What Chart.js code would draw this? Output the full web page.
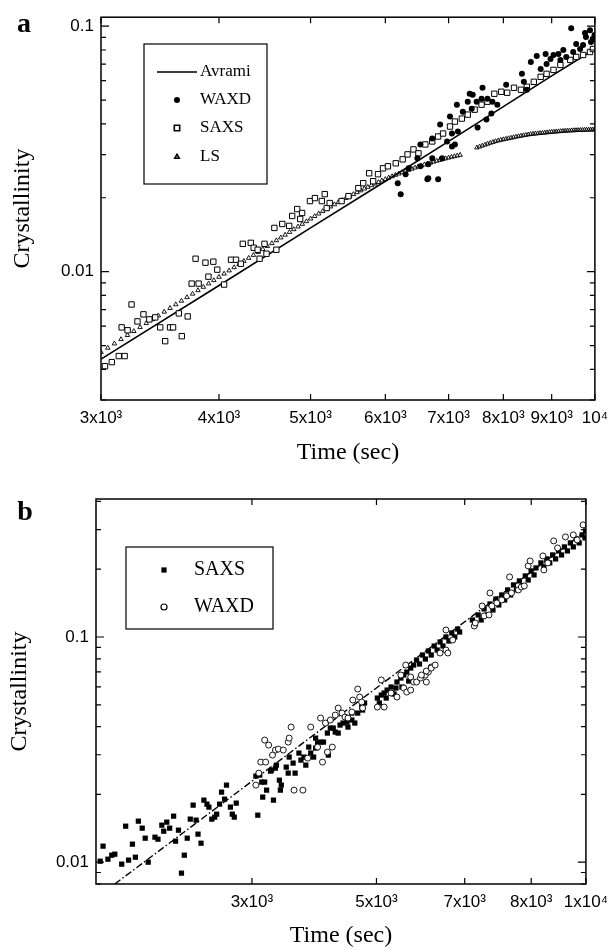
<!DOCTYPE html>
<html>
<head>
<meta charset="utf-8">
<script src="https://cdn.jsdelivr.net/npm/chart.js@4.4.1/dist/chart.umd.min.js"></script>
<style>
  html, body { margin: 0; padding: 0; background: #fff; }
  #wrap { position: relative; width: 616px; height: 950px; }
  canvas { position: absolute; left: 0; }
  #ca { top: 0; }
  #cb { top: 470px; }
</style>
</head>
<body>
<div id="wrap">
  <canvas id="ca" width="616" height="470"></canvas>
  <canvas id="cb" width="616" height="480"></canvas>
</div>
<script>
// Two log-log crystallinity panels (a: WAXD/SAXS/LS + Avrami fit, b: SAXS/WAXD).
// Values below.

// ── panel a ─────────────────────────────────────────────────────────────
const A_XTICKS = [3000, 4000, 5000, 6000, 7000, 8000, 9000, 10000];
const A_XLABELS = ['3x10³', '4x10³', '5x10³', '6x10³', '7x10³', '8x10³', '9x10³', '10⁴'];
const A_YTICKS = [0.01, 0.1];
const A_YLABELS = ['0.01', '0.1'];

const AVRAMI_T = [3000, 4000, 5000, 6000, 7000, 8000, 9000, 10000];
const AVRAMI_Y = [0.00440, 0.00878, 0.01507, 0.02336, 0.03392, 0.04700, 0.06277, 0.08072];

const LS1_T = [
  3000, 3050, 3100, 3150, 3200, 3250, 3300, 3350, 3400, 3450,
  3500, 3550, 3600, 3650, 3700, 3750, 3800, 3850, 3900, 3950,
  4000, 4050, 4100, 4150, 4200, 4250, 4300, 4350, 4400, 4450,
  4500, 4550, 4600, 4650, 4700, 4750, 4800, 4850, 4900, 4950,
  5000, 5050, 5100, 5150, 5200, 5250, 5300, 5350, 5400, 5450,
  5500, 5550, 5600, 5650, 5700, 5750, 5800, 5850, 5900, 5950,
  6000, 6050, 6100, 6150, 6200, 6250, 6300, 6350, 6400, 6450,
  6500, 6550, 6600, 6650, 6700, 6750, 6800, 6850, 6900, 6950,
  7000, 7050, 7100, 7150, 7200,
];
const LS1_Y = [
  0.00470, 0.00489, 0.00509, 0.00530, 0.00551, 0.00572, 0.00594, 0.00616, 0.00639, 0.00662,
  0.00686, 0.00710, 0.00735, 0.00760, 0.00786, 0.00812, 0.00839, 0.00866, 0.00894, 0.00922,
  0.00951, 0.00980, 0.01010, 0.01041, 0.01072, 0.01104, 0.01136, 0.01168, 0.01201, 0.01235,
  0.01269, 0.01304, 0.01340, 0.01376, 0.01412, 0.01449, 0.01487, 0.01525, 0.01563, 0.01603,
  0.01643, 0.01682, 0.01722, 0.01762, 0.01801, 0.01840, 0.01878, 0.01917, 0.01955, 0.01993,
  0.02030, 0.02067, 0.02104, 0.02140, 0.02176, 0.02211, 0.02246, 0.02281, 0.02314, 0.02348,
  0.02380, 0.02413, 0.02444, 0.02476, 0.02506, 0.02536, 0.02565, 0.02594, 0.02622, 0.02650,
  0.02677, 0.02703, 0.02729, 0.02754, 0.02778, 0.02802, 0.02825, 0.02847, 0.02869, 0.02890,
  0.02911, 0.02931, 0.02950, 0.02968, 0.02986,
];
const LS2_T = [
  7500, 7550, 7600, 7650, 7700, 7750, 7800, 7850, 7900, 7950,
  8000, 8050, 8100, 8150, 8200, 8250, 8300, 8350, 8400, 8450,
  8500, 8550, 8600, 8650, 8700, 8750, 8800, 8850, 8900, 8950,
  9000, 9050, 9100, 9150, 9200, 9250, 9300, 9350, 9400, 9450,
  9500, 9550, 9600, 9650, 9700, 9750, 9800, 9850, 9900, 9950,
  10000,
];
const LS2_Y = [
  0.03200, 0.03229, 0.03258, 0.03287, 0.03316, 0.03345, 0.03372, 0.03396, 0.03418, 0.03438,
  0.03456, 0.03473, 0.03490, 0.03507, 0.03524, 0.03541, 0.03557, 0.03573, 0.03589, 0.03604,
  0.03618, 0.03629, 0.03639, 0.03648, 0.03657, 0.03665, 0.03673, 0.03681, 0.03689, 0.03697,
  0.03705, 0.03712, 0.03719, 0.03726, 0.03732, 0.03738, 0.03744, 0.03749, 0.03754, 0.03758,
  0.03762, 0.03766, 0.03769, 0.03772, 0.03775, 0.03778, 0.03781, 0.03784, 0.03786, 0.03788,
  0.03790,
];

const SAXS_A_T = [
  3029, 3080, 3133, 3178, 3155, 3201, 3232, 3279, 3327, 3375,
  3424, 3466, 3508, 3550, 3576, 3627, 3653, 3706, 3778, 3742,
  3806, 3870, 3945, 3898, 3983, 4050, 4119, 4169, 4219, 4239,
  4322, 4353, 4395, 4469, 4491, 4578, 4600, 4667, 4746, 4416,
  4781, 4840, 4898, 4875, 4993, 5054, 5139, 5201, 5239, 5176,
  5393, 5484, 5618, 5685, 5768, 5824, 5894, 5966, 6038, 6154,
  6259, 6334, 6426, 6504, 6614, 6727, 6824, 6907, 7024, 7109,
  7230, 7335, 7459, 7586, 7696, 7826, 7959, 8075, 8211, 8351,
  8472, 8616, 8762, 8889, 9040, 9193, 9417, 9554, 9716, 9881,
  9953,
];
const SAXS_A_Y = [
  0.00412, 0.00428, 0.00453, 0.00453, 0.00593, 0.00577, 0.00735, 0.00627, 0.00670, 0.00639,
  0.00651, 0.00593, 0.00521, 0.00593, 0.00593, 0.00676, 0.00546, 0.00657, 0.01129, 0.00894,
  0.00894, 0.01088, 0.01098, 0.00954, 0.01019, 0.00886, 0.01118, 0.01118, 0.01077, 0.01298,
  0.01310, 0.01251, 0.01228, 0.01298, 0.01183, 0.01507, 0.01228, 0.01564, 0.01536, 0.01129,
  0.01686, 0.01799, 0.01734, 0.01639, 0.01939, 0.01994, 0.01939, 0.01816, 0.01903, 0.02069,
  0.01939, 0.02031, 0.02189, 0.02293, 0.02517, 0.02336, 0.02494, 0.02637, 0.02687, 0.02763,
  0.02868, 0.03004, 0.03148, 0.03033, 0.03298, 0.03392, 0.03553, 0.03654, 0.03901, 0.04087,
  0.04203, 0.04362, 0.04571, 0.04789, 0.04925, 0.05306, 0.05406, 0.05357, 0.05613, 0.05509,
  0.05665, 0.05934, 0.06218, 0.06394, 0.06636, 0.06953, 0.07286, 0.07492, 0.07634, 0.07849,
  0.08072,
];

const WAXD_A_T = [
  6229, 6184, 6304, 6350, 6535, 6488, 6662, 6824, 6662, 6727,
  6890, 7058, 6974, 7109, 6535, 6727, 6857, 7058, 7160, 7024,
  7143, 7247, 7335, 7370, 7424, 7495, 7406, 7513, 7604, 7586,
  7677, 7696, 7789, 7883, 7770, 8055, 8371, 8410, 8472, 8554,
  8678, 8762, 8868, 8889, 8975, 9040, 9149, 9193, 9259, 9326,
  9439, 9485, 9554, 9646, 9762, 9785, 9881, 9905, 9953, 9990,
  9716, 6647,
];
const WAXD_A_Y = [
  0.02069, 0.02293, 0.02494, 0.02637, 0.02687, 0.02895, 0.02402, 0.02380, 0.02737, 0.02895,
  0.02895, 0.03237, 0.03392, 0.03298, 0.03298, 0.03487, 0.03974, 0.03654, 0.03724, 0.04282,
  0.04789, 0.04486, 0.04925, 0.05306, 0.05257, 0.04925, 0.04613, 0.03865, 0.05613, 0.05065,
  0.04164, 0.05065, 0.04925, 0.04789, 0.04404, 0.05771, 0.06394, 0.05934, 0.05509, 0.07151,
  0.07562, 0.06699, 0.07704, 0.07019, 0.07354, 0.07634, 0.07704, 0.07286, 0.07997, 0.07492,
  0.09817, 0.07849, 0.08456, 0.08072, 0.09371, 0.09028, 0.09636, 0.08617, 0.08862, 0.09199,
  0.08378, 0.02380,
];

// ── panel b ─────────────────────────────────────────────────────────────
// tick values sit where the printed labels sit on the original axis
const B_XTICKS = [3000, 4700, 6460, 8210, 10000];
const B_XLABELS = ['3x10³', '5x10³', '7x10³', '8x10³', '1x10⁴'];
const B_YTICKS = [0.01, 0.1];
const B_YLABELS = ['0.01', '0.1'];

const FIT_B_T = [1830, 10000];
const FIT_B_Y = [0.0080, 0.2958];

const SAXS_B_T = [
  1736, 1754, 1785, 1810, 1830, 1876, 1903, 1923, 1950, 1971,
  1992, 2020, 2042, 2064, 2115, 2138, 2168, 2183, 2207, 2230,
  2262, 2278, 2302, 2327, 2351, 2376, 2402, 2427, 2453, 2470,
  2497, 2523, 2551, 2569, 2596, 2623, 2642, 2670, 2689, 2718,
  2737, 2776, 2795, 2815, 2835, 3043, 3064, 3086, 3119, 3141,
  3163, 3208, 3242, 3265, 3312, 3324, 3108, 3220, 3277, 3335,
  3395, 3419, 3480, 3505, 3431, 3554, 3580, 3618, 3643, 3682,
  3708, 3747, 3774, 3801, 3842, 3883, 3774, 3951, 3938, 3980,
  4022, 4051, 4094, 4122, 4166, 4226, 4241, 4301, 4347, 4301,
  4393, 4456, 4471, 4503, 4715, 4782, 4832, 4884, 4954, 4971,
  5042, 5060, 5132, 5186, 5242, 5317, 5373, 4749, 4868, 5007,
  5151, 5279,
  5431, 5488, 5547, 5606, 5666, 5726, 5787, 5849, 5911, 5973,
  6038, 6102, 6167, 6233, 6299, 6343,
  6640, 6711, 6782, 6855, 6928, 7002, 7076, 7152, 7228, 7305,
  7382, 7461, 7541, 7621, 7702, 7784, 7867, 7951, 8036, 8121,
  8207, 8295, 8354,
  8502, 8593, 8684, 8777, 8870, 8965, 9060, 9159, 9256, 9355,
  9455, 9555, 9657, 9760, 9864, 9969, 9990,
];
const SAXS_B_Y = [
  0.01010, 0.01178, 0.01031, 0.01074, 0.01085, 0.00980, 0.01445, 0.01021, 0.01202, 0.01052,
  0.01521, 0.01416, 0.01278, 0.01000, 0.01291, 0.01265, 0.01460, 0.01373, 0.01506, 0.01416,
  0.01601, 0.01240, 0.01387, 0.00894, 0.01074, 0.01278, 0.01553, 0.01792, 0.01537, 0.01332,
  0.01214, 0.01886, 0.01810, 0.01756, 0.01553, 0.01585, 0.01634, 0.01810, 0.02047, 0.01905,
  0.02199, 0.01756, 0.01634, 0.01585, 0.01829, 0.02411, 0.01617, 0.02436, 0.01945, 0.02268,
  0.02089, 0.02537, 0.01886, 0.02616, 0.02313, 0.02089, 0.02268, 0.02563, 0.02698, 0.02199,
  0.02643, 0.02486, 0.02754, 0.02486, 0.02929, 0.03051, 0.02840, 0.02929, 0.02698, 0.03244,
  0.03051, 0.02929, 0.03211, 0.03379, 0.03414, 0.03414, 0.03556, 0.02989, 0.03744, 0.03941,
  0.03941, 0.03783, 0.03744, 0.04064, 0.04148, 0.04190, 0.03981, 0.04277, 0.04148, 0.04594,
  0.04594, 0.04885, 0.04738, 0.05089, 0.05356, 0.05523, 0.05637, 0.05812, 0.05995, 0.05637,
  0.05934, 0.06310, 0.06573, 0.06778, 0.06988, 0.07280, 0.07506, 0.05089, 0.05356, 0.05580,
  0.05995, 0.06375,
  0.07902, 0.07586, 0.08318, 0.07983, 0.08665, 0.08318, 0.09120, 0.08753, 0.09502, 0.09120,
  0.1000, 0.09598, 0.1042, 0.1000, 0.1085, 0.1052,
  0.1190, 0.1142, 0.1253, 0.1190, 0.1332, 0.1253, 0.1402, 0.1318, 0.1475, 0.1388,
  0.1537, 0.1460, 0.1618, 0.1537, 0.1703, 0.1618, 0.1774, 0.1686, 0.1867, 0.1792,
  0.1965, 0.1886, 0.2026,
  0.2133, 0.2047, 0.2222, 0.2133, 0.2314, 0.2222, 0.2411, 0.2314, 0.2512, 0.2411,
  0.2617, 0.2512, 0.2727, 0.2617, 0.2840, 0.2754, 0.2959,
];

const WAXD_B_T = [
  3141, 3186, 3097, 3152, 3231, 3265, 3300, 3043, 3075, 3359,
  3419, 3431, 3455, 3492, 3605, 3668, 3708, 3801, 3869, 3938,
  4008, 3842, 3910, 3980, 4051, 4094, 4151, 4196, 4241, 4301,
  4316, 4393, 4424, 4456, 4471, 4715, 4832, 4782, 4954, 5060,
  5186, 5242, 5317, 5132, 5223, 5317, 5373, 5431, 5508, 5606,
  5666, 5726, 5625, 5527, 5625, 5726, 5807, 5911, 6038, 6080,
  6187, 6038, 6686, 6711, 6928, 7052, 6879, 7076, 7126, 7253,
  7382, 7515, 7647, 7840, 7923, 8008, 7595, 8121, 8178, 8563,
  8593, 8717, 8903, 9029, 9289, 9555, 9690, 9898,
];
const WAXD_B_Y = [
  0.03485, 0.03311, 0.02783, 0.02783, 0.02989, 0.03147, 0.03179, 0.02199, 0.02486, 0.03147,
  0.03414, 0.03556, 0.03981, 0.02089, 0.02089, 0.02898, 0.03981, 0.03244, 0.02783, 0.03083,
  0.03244, 0.04365, 0.04148, 0.04277, 0.04500, 0.04835, 0.04594, 0.04410, 0.04365, 0.04642,
  0.05248, 0.05872, 0.05412, 0.05141, 0.04835, 0.04885, 0.04885, 0.06442, 0.05637, 0.05412,
  0.05934, 0.05694, 0.05812, 0.06778, 0.07506, 0.06640, 0.06310, 0.06310, 0.06573, 0.06778,
  0.06988, 0.07357, 0.06310, 0.06778, 0.07061, 0.07280, 0.07506, 0.08489, 0.08753, 0.08489,
  0.09698, 0.1074, 0.1119, 0.1154, 0.1240, 0.1253, 0.1373, 0.1569, 0.1373, 0.1416,
  0.1460, 0.1521, 0.1569, 0.1618, 0.1668, 0.1686, 0.1848, 0.2068, 0.2176, 0.2291,
  0.1985, 0.2133, 0.2671, 0.2486, 0.2783, 0.2840, 0.2698, 0.3147,
];

// ── helpers ─────────────────────────────────────────────────────────────
const pts = (xs, ys) => xs.map((x, i) => ({ x, y: ys[i] }));
const SANS = '"Liberation Sans", Arial, sans-serif';
const SERIF = '"Liberation Serif", "Times New Roman", serif';

// 1..9 x 10^n positions inside the y range, for the inward minor ticks
function logSteps(min, max) {
  const out = [];
  for (let d = Math.floor(Math.log10(min)); d <= Math.ceil(Math.log10(max)); d++) {
    for (let k = 1; k <= 9; k++) {
      const v = k * Math.pow(10, d);
      if (v >= min * 0.999 && v <= max * 1.001) out.push({ v, major: k === 1 });
    }
  }
  return out;
}

// frame, inward ticks on all four sides, boxed legend and the panel letter
const decor = {
  id: 'decor',
  afterDraw(chart, _args, o) {
    const { ctx, chartArea: a, scales: { x, y } } = chart;
    ctx.save();
    ctx.strokeStyle = '#000';
    ctx.lineWidth = 1.5;
    ctx.strokeRect(a.left, a.top, a.right - a.left, a.bottom - a.top);

    ctx.lineWidth = 1.2;
    ctx.beginPath();
    x.ticks.forEach((t) => {
      const px = x.getPixelForValue(t.value);
      ctx.moveTo(px, a.bottom); ctx.lineTo(px, a.bottom - 6);
      ctx.moveTo(px, a.top); ctx.lineTo(px, a.top + 6);
    });
    logSteps(y.min, y.max).forEach((t) => {
      const py = y.getPixelForValue(t.v);
      const len = t.major ? 8 : 5;
      ctx.moveTo(a.left, py); ctx.lineTo(a.left + len, py);
      ctx.moveTo(a.right, py); ctx.lineTo(a.right - len, py);
    });
    ctx.stroke();

    // legend box
    const [l, t, r, b] = o.box;
    ctx.lineWidth = 1.2;
    ctx.strokeRect(l, t, r - l, b - t);
    ctx.font = o.legendFont;
    ctx.textAlign = 'left';
    ctx.textBaseline = 'middle';
    o.items.forEach((it) => {
      const ds = chart.data.datasets[it.ds];
      if (ds.showLine) {
        ctx.beginPath();
        ctx.lineWidth = ds.borderWidth;
        ctx.setLineDash(ds.borderDash || []);
        ctx.moveTo(o.lineFrom, it.y); ctx.lineTo(o.markX + (o.markX - o.lineFrom), it.y);
        ctx.stroke();
        ctx.setLineDash([]);
      } else {
        ctx.fillStyle = ds.backgroundColor;
        ctx.strokeStyle = ds.borderColor;
        Chart.helpers.drawPoint(ctx, {
          pointStyle: ds.pointStyle, radius: ds.pointRadius, rotation: 0,
          borderWidth: ds.borderWidth,
        }, o.markX, it.y);
      }
      ctx.fillStyle = '#000';
      ctx.strokeStyle = '#000';
      ctx.fillText(ds.label, o.textX, it.y);
    });

    ctx.font = 'bold 28px ' + SERIF;
    ctx.textAlign = 'center';
    ctx.textBaseline = 'alphabetic';
    ctx.fillText(o.letter, o.letterX, o.letterY);
    ctx.restore();
  },
};

function xAxis(min, max, ticks, labels, height, titlePad) {
  return {
    type: 'logarithmic', position: 'bottom', min, max, bounds: 'data',
    grid: { display: false, drawTicks: false }, border: { display: false },
    afterBuildTicks: (s) => { s.ticks = ticks.map((v) => ({ value: v })); },
    afterFit: (s) => { s.height = height; },
    ticks: {
      autoSkip: false, maxRotation: 0, minRotation: 0, padding: 8, color: '#000',
      font: { family: SANS, size: 17 }, callback: (v, i) => labels[i],
    },
    title: {
      display: true, text: 'Time (sec)', color: '#000',
      font: { family: SERIF, size: 24 }, padding: { top: 0, bottom: titlePad },
    },
  };
}

function yAxis(min, max, ticks, labels, width, titlePad) {
  return {
    type: 'logarithmic', position: 'left', min, max, bounds: 'data',
    grid: { display: false, drawTicks: false }, border: { display: false },
    afterBuildTicks: (s) => { s.ticks = ticks.map((v) => ({ value: v })); },
    afterFit: (s) => { s.width = width; },
    ticks: {
      autoSkip: false, padding: 7, color: '#000',
      font: { family: SANS, size: 17 }, callback: (v, i) => labels[i],
    },
    title: {
      display: true, text: 'Crystallinity', color: '#000',
      font: { family: SERIF, size: 24 }, padding: { top: titlePad, bottom: 0 },
    },
  };
}

const base = {
  responsive: false,
  animation: false,
  events: [],
  plugins: { legend: { display: false }, tooltip: { enabled: false } },
};

// ── panel a ─────────────────────────────────────────────────────────────
new Chart(document.getElementById('ca'), {
  type: 'scatter',
  data: {
    datasets: [
      {
        label: 'Avrami', data: pts(AVRAMI_T, AVRAMI_Y), showLine: true,
        borderColor: '#000', backgroundColor: '#000', borderWidth: 1.6,
        pointRadius: 0, order: 2,
      },
      {
        label: 'WAXD', data: pts(WAXD_A_T, WAXD_A_Y), pointStyle: 'circle',
        pointRadius: 3, borderWidth: 0, backgroundColor: '#000', borderColor: '#000', order: 0,
      },
      {
        label: 'SAXS', data: pts(SAXS_A_T, SAXS_A_Y), pointStyle: 'rect',
        pointRadius: 3.8, borderWidth: 1, backgroundColor: '#fff', borderColor: '#000', order: 1,
      },
      {
        label: 'LS', data: pts(LS1_T, LS1_Y).concat(pts(LS2_T, LS2_Y)), pointStyle: 'triangle',
        pointRadius: 2.6, borderWidth: 0.9, backgroundColor: 'rgba(255,255,255,0)', borderColor: '#000', order: 3,
      },
    ],
  },
  options: {
    ...base,
    layout: { padding: { left: 0, top: 15, right: 14, bottom: 0 }, autoPadding: false },
    scales: {
      x: xAxis(3000, 10000, A_XTICKS, A_XLABELS, 70, 3),
      y: yAxis(0.003, 0.1088, A_YTICKS, A_YLABELS, 101, 8),
    },
    plugins: {
      ...base.plugins,
      decor: {
        letter: 'a', letterX: 24, letterY: 32,
        box: [144, 44, 267, 184], legendFont: '17px ' + SERIF,
        lineFrom: 157, markX: 177, textX: 200,
        items: [{ ds: 0, y: 72 }, { ds: 1, y: 100 }, { ds: 2, y: 128 }, { ds: 3, y: 157 }],
      },
    },
  },
  plugins: [decor],
});

// ── panel b ─────────────────────────────────────────────────────────────
new Chart(document.getElementById('cb'), {
  type: 'scatter',
  data: {
    datasets: [
      {
        label: 'SAXS', data: pts(SAXS_B_T, SAXS_B_Y), pointStyle: 'rect',
        pointRadius: 3.7, borderWidth: 0, backgroundColor: '#000', borderColor: '#000', order: 1,
      },
      {
        label: 'WAXD', data: pts(WAXD_B_T, WAXD_B_Y), pointStyle: 'circle',
        pointRadius: 3, borderWidth: 0.9, backgroundColor: '#fff', borderColor: '#000', order: 0,
      },
      {
        label: 'fit', data: pts(FIT_B_T, FIT_B_Y), showLine: true,
        borderColor: '#000', backgroundColor: '#000', borderWidth: 1.4,
        borderDash: [7, 2.5, 1.5, 2.5], pointRadius: 0, order: 2,
      },
    ],
  },
  options: {
    ...base,
    layout: { padding: { left: 0, top: 29, right: 20, bottom: 0 }, autoPadding: false },
    scales: {
      x: xAxis(1710, 10000, B_XTICKS, B_XLABELS, 66, 0),
      y: yAxis(0.008, 0.41, B_YTICKS, B_YLABELS, 96, 5),
    },
    plugins: {
      ...base.plugins,
      decor: {
        letter: 'b', letterX: 25, letterY: 50,
        box: [126, 77, 273, 159], legendFont: '20px ' + SERIF,
        lineFrom: 150, markX: 164, textX: 194,
        items: [{ ds: 0, y: 100 }, { ds: 1, y: 137 }],
      },
    },
  },
  plugins: [decor],
});
</script>
</body>
</html>
